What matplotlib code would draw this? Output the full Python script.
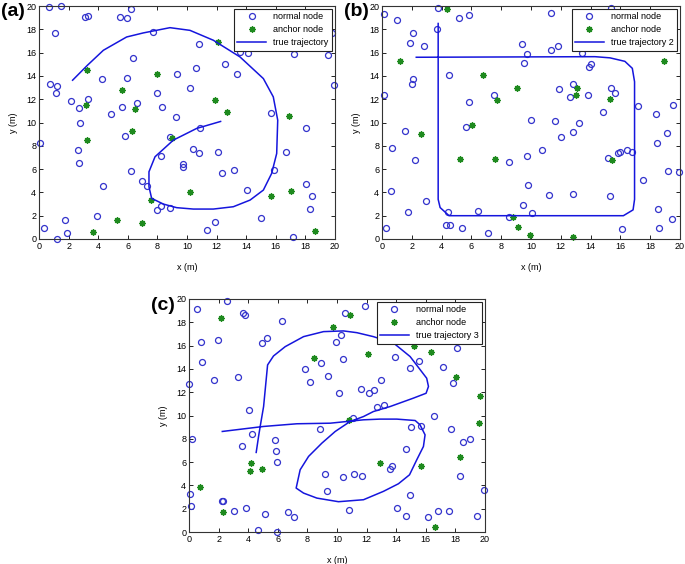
import numpy as np
import matplotlib
matplotlib.use('Agg')
import matplotlib.pyplot as plt

plt.rcParams['font.family'] = ['Liberation Sans', 'DejaVu Sans']

# ---- panel (a) ----
a_normal_x = [0.7, 1.5, 3.1, 3.3, 5.47, 5.97, 6.24, 1.1, 7.68, 10.79, 13.6, 14.1, 13.5, 19.8, 19.5, 17.2,
              19.9, 6.33, 4.23, 0.72, 1.2, 1.15, 2.16, 3.33, 2.7, 2.8, 5.92, 5.59, 6.64, 4.84, 7.95, 8.29,
              9.32, 10.2, 10.63, 12.6, 13.4, 9.23, 10.88, 5.8, 0.05, 2.64, 2.68, 8.85, 8.27, 10.43, 10.8,
              12.07, 9.75, 9.75, 6.19, 6.98, 7.27, 4.35, 12.34, 13.2, 15.7, 18.04, 16.67, 15.86, 18.06,
              18.45, 14.08, 18.3, 8.0, 8.24, 8.87, 3.92, 1.78, 1.89, 0.36, 1.19, 11.37, 11.9, 15.0, 17.16]
a_normal_y = [19.9, 20.0, 19.06, 19.1, 19.06, 19.0, 19.7, 17.66, 17.77, 16.7, 16.06, 15.97, 19.3, 17.7, 15.8, 15.9,
              13.2, 15.5, 13.7, 13.3, 13.1, 12.5, 11.86, 12.0, 11.26, 9.97, 13.83, 11.31, 11.66, 10.69, 12.49, 11.31,
              14.14, 12.94, 14.66, 15.03, 14.2, 10.43, 9.51, 8.86, 8.26, 7.63, 6.51, 8.74, 7.09, 7.69, 7.34,
              7.46, 6.4, 6.17, 5.86, 4.97, 4.54, 4.54, 5.66, 5.94, 10.8, 9.57, 7.51, 5.94, 4.71,
              3.71, 4.17, 2.54, 2.49, 2.83, 2.63, 1.94, 1.6, 0.54, 0.94, 0.03, 0.77, 1.49, 1.83, 0.2]
a_anchor_x = [3.22, 5.6, 3.15, 6.49, 8.0, 12.07, 11.89, 12.72, 16.91, 6.28, 3.22, 8.96, 10.18, 7.57,
              15.68, 17.03, 5.25, 6.94, 3.67, 18.67]
a_anchor_y = [14.49, 12.8, 11.46, 11.14, 14.2, 16.94, 11.89, 10.91, 10.57, 9.26, 8.46, 8.69, 4.0, 3.34,
              3.69, 4.11, 1.6, 1.37, 0.63, 0.69]
a_traj_x = [2.27, 3.27, 4.35, 5.92, 7.05, 8.85, 10.2, 11.78, 13.58, 15.16, 15.83, 16.13, 16.06, 15.72,
            15.16, 14.26, 13.13, 11.78, 10.43, 9.3, 8.4, 7.61, 7.43, 7.43, 7.84, 9.08, 10.65, 12.27]
a_traj_y = [13.63, 14.91, 16.2, 17.34, 17.69, 18.14, 17.91, 17.06, 15.63, 13.77, 12.2, 10.2, 7.34, 5.63,
            4.2, 3.34, 2.77, 2.57, 2.57, 2.69, 3.0, 3.49, 4.49, 5.77, 7.06, 8.49, 9.49, 10.09]

# ---- panel (b) ----
b_normal_x = [0.11, 1.03, 3.77, 5.19, 5.86, 11.34, 15.38, 2.11, 1.86, 2.83, 3.68, 9.38, 9.72, 9.52, 11.36,
              11.83, 13.42, 14.03, 13.87, 2.07, 2.0, 4.53, 0.16, 7.52, 5.81, 11.85, 12.82, 12.64, 13.8,
              15.38, 15.62, 9.97, 5.63, 11.63, 13.24, 14.86, 12.03, 12.79, 17.15, 18.38, 19.55, 1.55,
              0.65, 2.24, 10.75, 9.76, 8.55, 15.85, 16.0, 16.45, 16.77, 15.17, 18.45, 19.12, 19.19,
              19.91, 17.55, 0.63, 2.92, 1.77, 9.79, 11.22, 12.82, 15.29, 9.45, 10.08, 6.42, 4.4, 4.27,
              4.54, 5.36, 7.12, 8.55, 0.25, 16.12, 18.59, 19.44, 18.54]
b_normal_y = [19.31, 18.83, 19.8, 18.94, 19.2, 19.43, 19.8, 17.66, 16.86, 16.6, 18.03, 16.77, 15.86, 15.09, 16.26,
              16.54, 15.94, 15.06, 14.74, 13.71, 13.29, 14.09, 12.34, 12.4, 11.74, 12.86, 13.29, 12.2, 12.4,
              12.94, 12.51, 10.23, 9.6, 10.17, 9.94, 10.94, 8.77, 9.17, 11.4, 10.71, 11.5, 9.23,
              7.83, 6.77, 7.6, 7.14, 6.6, 7.4, 7.46, 7.6, 7.43, 6.94, 8.2, 9.06, 5.83,
              5.74, 5.09, 4.14, 3.26, 2.29, 4.6, 3.74, 3.86, 3.69, 2.91, 2.23, 2.4, 2.34, 1.2,
              1.23, 0.97, 0.51, 1.91, 0.97, 0.86, 0.97, 1.74, 2.6]
b_anchor_x = [4.38, 1.23, 6.8, 9.09, 13.06, 12.99, 15.29, 7.72, 6.02, 2.63, 5.23, 7.61, 15.44, 18.92,
              8.82, 9.14, 9.92, 12.79]
b_anchor_y = [19.71, 15.29, 14.06, 13.0, 12.97, 12.34, 12.0, 11.94, 9.8, 9.0, 6.86, 6.86, 6.74, 15.29,
              1.91, 1.03, 0.37, 0.17]
b_traj_x = [3.77, 3.77, 3.9, 4.5, 16.2, 16.85, 16.95, 16.95, 16.8, 16.3, 15.3, 14.3, 2.3]
b_traj_y = [18.5, 3.4, 2.7, 2.0, 2.0, 2.5, 3.4, 13.5, 14.65, 15.25, 15.55, 15.65, 15.6]

# ---- panel (c) ----
c_normal_x = [0.52, 2.54, 3.62, 3.78, 6.28, 10.57, 11.88, 0.83, 1.98, 4.9, 5.29, 0.88, 1.69, 3.33, 0.0,
              10.26, 9.9, 10.39, 8.93, 7.81, 8.19, 9.38, 10.12, 11.63, 12.17, 12.49, 13.0, 13.9, 14.9,
              15.53, 17.19, 18.11, 17.86, 12.67, 13.18, 11.05, 4.07, 4.25, 0.22, 3.55, 5.8, 5.87, 5.94,
              8.82, 15.03, 15.66, 16.54, 17.69, 18.49, 18.99, 14.65, 13.7, 13.58, 9.2, 10.39, 11.14,
              11.72, 9.34, 14.9, 18.34, 19.91, 0.09, 0.11, 2.2, 2.3, 3.04, 3.85, 5.13, 6.7, 7.11, 4.66,
              5.94, 10.84, 14.08, 14.65, 16.18, 16.85, 17.57, 19.46]
c_normal_y = [19.11, 19.86, 18.8, 18.66, 18.11, 18.83, 19.4, 16.29, 16.51, 16.23, 16.63, 14.63, 13.03, 13.29, 12.74,
              16.89, 16.29, 14.83, 14.54, 14.0, 12.86, 13.43, 11.97, 12.31, 11.97, 12.2, 13.03, 15.0, 14.06,
              14.66, 14.17, 15.77, 12.77, 10.69, 10.94, 9.8, 10.46, 8.4, 7.97, 7.34, 7.91, 6.91, 5.97,
              8.8, 9.0, 9.06, 9.97, 8.8, 7.74, 7.97, 7.11, 5.69, 5.4, 4.97, 4.74, 4.97,
              4.83, 3.49, 3.14, 4.8, 3.63, 3.23, 2.23, 2.63, 2.63, 1.83, 2.09, 1.51, 1.69, 1.29, 0.14,
              0.0, 1.89, 2.09, 1.4, 1.26, 1.77, 1.77, 1.4]
c_anchor_x = [2.14, 9.76, 10.89, 8.44, 12.1, 15.21, 16.33, 18.04, 19.64, 19.62, 10.78, 18.34, 15.7,
              12.91, 4.21, 4.12, 4.93, 0.74, 2.27, 16.6]
c_anchor_y = [18.34, 17.6, 18.63, 14.94, 15.29, 15.94, 15.49, 13.34, 11.69, 9.37, 9.6, 6.46, 5.63,
              5.94, 5.94, 5.23, 5.37, 3.86, 1.69, 0.46]
c_traj_x = [4.54, 4.7, 4.81, 5.04, 5.31, 5.71, 6.5, 7.74, 9.09, 10.44, 11.34, 12.46, 13.84, 14.94, 16.06,
            16.18, 16.02, 15.16, 13.59, 12.46, 11.79, 10.89, 9.88, 8.98, 8.08, 7.51, 7.24, 7.74, 8.64,
            10.1, 11.79, 13.14, 14.15, 14.9, 15.39, 15.84, 15.95, 15.61, 15.28, 14.04, 12.91, 11.79,
            9.54, 7.29, 5.04, 2.25]
c_traj_y = [6.83, 8.2, 9.06, 10.77, 14.34, 15.11, 15.91, 16.77, 17.2, 17.26, 17.11, 16.77, 16.2, 15.06, 13.2,
            12.49, 11.91, 11.49, 10.77, 10.34, 9.91, 9.49, 8.63, 7.63, 6.49, 5.34, 3.77, 3.34, 2.91,
            2.6, 2.77, 3.49, 4.14, 4.91, 6.2, 7.34, 8.34, 9.2, 9.57, 9.69, 9.69, 9.63,
            9.34, 9.29, 9.06, 8.63]

panels = [
    ('(a)', [39, 6, 335, 239], a_normal_x, a_normal_y, a_anchor_x, a_anchor_y, a_traj_x, a_traj_y, 'true trajectory'),
    ('(b)', [382, 6, 680, 239], b_normal_x, b_normal_y, b_anchor_x, b_anchor_y, b_traj_x, b_traj_y, 'true trajectory 2'),
    ('(c)', [189, 299, 485, 532], c_normal_x, c_normal_y, c_anchor_x, c_anchor_y, c_traj_x, c_traj_y, 'true trajectory 3'),
]

W, H = 685, 564
fig = plt.figure(figsize=(W / 100, H / 100), dpi=100)

blue = '#1515dd'
green = '#1f8a1f'
asterisk = (8, 2, 0)  # matlab-style '*'

for label, box, nx, ny, ax_, ay_, tx, ty, tlabel in panels:
    x0, y0, x1, y1 = box
    ax = fig.add_axes([x0 / W, 1 - y1 / H, (x1 - x0) / W, (y1 - y0) / H])
    ax.plot(nx, ny, 'o', ms=4.3, mfc='none', mec='#3333cc', mew=0.9, label='normal node', clip_on=False)
    ax.plot(ax_, ay_, ls='none', marker=asterisk, ms=4.5, color=green, mew=1.0, label='anchor node', clip_on=False)
    ax.plot(tx, ty, '-', color=blue, lw=1.1, label=tlabel)
    ax.set_xlim(0, 20)
    ax.set_ylim(0, 20)
    ax.set_xticks(np.arange(0, 21, 2))
    ax.set_yticks(np.arange(0, 21, 2))
    ax.tick_params(direction='in', top=True, right=True, labelsize=6.5, length=3, width=0.6, pad=2)
    for s in ax.spines.values():
        s.set_linewidth(0.8)
        s.set_color('#333333')
    ax.set_xlabel('x (m)', fontsize=6.5, labelpad=9)
    ax.set_ylabel('y (m)', fontsize=6.5, labelpad=6)
    leg = ax.legend(loc='upper right', fontsize=6.5, fancybox=False, framealpha=1,
                    edgecolor='#222222', borderaxespad=0.35, handlelength=3.2,
                    borderpad=0.35, labelspacing=0.45, handletextpad=0.8)
    leg.get_frame().set_linewidth(0.8)
    leg.set_zorder(5)
    fig.text((x0 - 38) / W, 1 - (y0 + 6) / H, label, fontsize=14, fontweight='bold',
             ha='left', va='center')

fig.savefig('out.png', dpi=100)
